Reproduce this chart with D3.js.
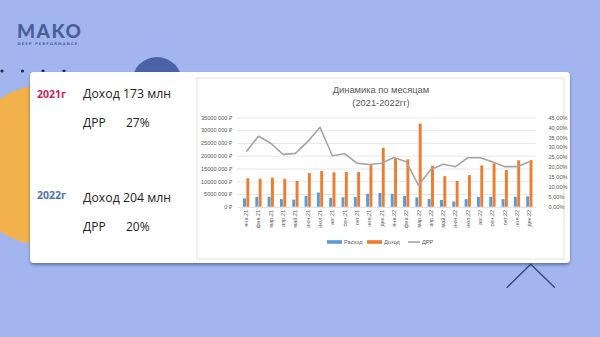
<!DOCTYPE html>
<html>
<head>
<meta charset="utf-8">
<script src="https://cdn.jsdelivr.net/npm/d3@7"></script>
<style>
  body { margin: 0; background: #a3b5ef; }
  svg { display: block; }
</style>
</head>
<body>
<svg id="slide" width="600" height="337"></svg>
<script>
// Monthly data (₽ and %)
const months = ['янв.21','фев.21','мар.21','апр.21','май.21','июн.21','июл.21','авг.21','сен.21','окт.21','ноя.21','дек.21',
                'янв.22','фев.22','мар.22','апр.22','май.22','июн.22','июл.22','авг.22','сен.22','окт.22','ноя.22','дек.22'];
const expense = [3.3, 3.9, 3.9, 3.0, 2.8, 4.3, 5.6, 3.5, 3.7, 3.8, 5.1, 5.4,
                 5.1, 4.3, 3.7, 3.0, 2.7, 2.1, 3.0, 3.9, 3.9, 3.0, 3.9, 4.1].map(v => v * 1e6);
const income  = [11.2, 11.0, 11.4, 11.0, 10.1, 13.2, 14.0, 13.5, 13.6, 13.6, 16.3, 23.1,
                 18.9, 18.6, 32.6, 16.1, 12.0, 10.1, 12.4, 16.2, 17.0, 14.4, 18.2, 18.3].map(v => v * 1e6);
const drr     = [27.7, 35.5, 32.0, 26.4, 26.9, 32.8, 40.0, 25.7, 26.7, 22.0, 21.3, 21.9,
                 24.8, 22.7, 10.8, 18.8, 21.4, 20.2, 24.7, 24.7, 22.7, 20.2, 20.2, 22.7];
const leftTicks  = [0, 5e6, 10e6, 15e6, 20e6, 25e6, 30e6, 35e6];
const rightTicks = [0, 5, 10, 15, 20, 25, 30, 35, 40, 45];
const seriesColors = { 'Расход': '#5b9bd5', 'Доход': '#ed7d31', 'ДРР': '#a5a5a5' };

// Summary figures on the left panel
const summary = [
  { year: '2021г', color: '#c8245a', income: 'Доход 173 млн', drr: '27%', yearY: 98, incY: 98 },
  { year: '2022г', color: '#4f74a8', income: 'Доход 204 млн', drr: '20%', yearY: 199, incY: 202 }
];

const svg = d3.select('#slide');

// Background decorations
const defs = svg.append('defs');
const shadow = defs.append('filter').attr('id', 'shadow')
    .attr('x', '-5%').attr('y', '-5%').attr('width', '110%').attr('height', '120%');
shadow.append('feDropShadow')
    .attr('dx', 0).attr('dy', 2).attr('stdDeviation', 1.5)
    .attr('flood-color', '#2c3a6a').attr('flood-opacity', 0.55);

svg.append('rect').attr('width', 600).attr('height', 337).attr('fill', '#a3b5ef');
svg.append('circle').attr('cx', 45).attr('cy', 165).attr('r', 80).attr('fill', '#f2b14a');
svg.append('circle').attr('cx', 157).attr('cy', 82).attr('r', 25).attr('fill', '#4b62a6');

svg.selectAll('.dot')
    .data([2, 22.5, 43, 64])
    .enter().append('circle')
    .attr('class', 'dot')
    .attr('cx', d => d).attr('cy', 71).attr('r', 1.6)
    .attr('fill', '#1f2a4a');

// Logo
svg.append('text')
    .attr('x', 17).attr('y', 38)
    .attr('font-family', 'Lato, "Open Sans", sans-serif')
    .attr('font-weight', 900).attr('font-size', 19)
    .attr('letter-spacing', 1.5)
    .attr('fill', '#4a5f96')
    .text('MAKO');
svg.append('text')
    .attr('x', 17.5).attr('y', 44.5)
    .attr('font-family', '"DejaVu Sans", sans-serif')
    .attr('font-weight', 700).attr('font-size', 3.6)
    .attr('letter-spacing', 1.15)
    .attr('fill', '#4a5f96')
    .text('DEEP PERFORMANCE');

// Corner chevron
svg.append('path')
    .attr('d', 'M506.7,287.7 L530.7,264.3 L555,287.7')
    .attr('fill', 'none').attr('stroke', '#34477a').attr('stroke-width', 1.4);

// Card
svg.append('rect')
    .attr('x', 30).attr('y', 72).attr('width', 540).attr('height', 191)
    .attr('rx', 4).attr('fill', '#ffffff')
    .attr('filter', 'url(#shadow)');

// Left summary panel
const panel = svg.append('g').attr('font-family', '"Open Sans", "Noto Sans", sans-serif');
summary.forEach(s => {
    panel.append('text')
        .attr('x', 37).attr('y', s.yearY).attr('font-size', 10.5).attr('font-weight', 700)
        .attr('fill', s.color).text(s.year);
    panel.append('text')
        .attr('x', 83).attr('y', s.incY).attr('font-size', 12.3)
        .attr('fill', '#222').text(s.income);
    panel.append('text')
        .attr('x', 83).attr('y', s.incY + 28.5).attr('font-size', 12)
        .attr('fill', '#222').text('ДРР');
    panel.append('text')
        .attr('x', 126).attr('y', s.incY + 28.5).attr('font-size', 12)
        .attr('fill', '#222').text(s.drr);
});

// Chart frame
svg.append('rect')
    .attr('x', 197).attr('y', 78).attr('width', 367).attr('height', 181)
    .attr('fill', '#ffffff').attr('stroke', '#d9d9d9').attr('stroke-width', 0.8);

const chart = svg.append('g').attr('font-family', '"Liberation Sans", Arial, sans-serif');

chart.append('text')
    .attr('x', 381).attr('y', 93).attr('text-anchor', 'middle')
    .attr('font-size', 9.3).attr('fill', '#595959').text('Динамика по месяцам');
chart.append('text')
    .attr('x', 381).attr('y', 106).attr('text-anchor', 'middle')
    .attr('font-size', 9.3).attr('fill', '#595959').text('(2021-2022гг)');

// Scales
const plotLeft = 240, plotRight = 535.5, plotTop = 117.4, plotBottom = 206.8;
const x = d3.scaleBand().domain(months).range([plotLeft, plotRight])
    .paddingInner(0.46).paddingOuter(0.23);
const x1 = d3.scaleBand().domain(['Расход', 'Доход']).range([0, x.bandwidth()]);
const yL = d3.scaleLinear().domain([0, 35e6]).range([plotBottom, plotTop]);
const yR = d3.scaleLinear().domain([0, 45]).range([plotBottom, plotTop]);

const fmtRub = d => d === 0 ? '0 ₽' : d3.format(',')(d).replace(',', '').replace(',', ' ') + ' ₽';
const fmtPct = d => d3.format('.2f')(d).replace('.', ',') + '%';

// Gridlines
chart.append('g')
    .attr('transform', `translate(${plotLeft - 3},0)`)
    .call(d3.axisLeft(yL).tickValues(leftTicks).tickSize(-(plotRight - plotLeft + 3)).tickFormat(''))
    .call(g => g.select('.domain').remove())
    .call(g => g.selectAll('line').attr('stroke', '#d9d9d9').attr('stroke-width', 0.6));

// Left axis
chart.append('g')
    .attr('transform', `translate(${plotLeft - 5},0)`)
    .call(d3.axisLeft(yL).tickValues(leftTicks).tickSize(0).tickFormat(fmtRub))
    .call(g => g.select('.domain').remove())
    .call(g => g.selectAll('text').attr('font-size', 5.6).attr('fill', '#595959')
        .attr('font-family', '"Liberation Sans", Arial, sans-serif'));

// Right axis
chart.append('g')
    .attr('transform', `translate(${plotRight + 10},0)`)
    .call(d3.axisRight(yR).tickValues(rightTicks).tickSize(0).tickFormat(fmtPct))
    .call(g => g.select('.domain').remove())
    .call(g => g.selectAll('text').attr('font-size', 5.6).attr('fill', '#595959')
        .attr('font-family', '"Liberation Sans", Arial, sans-serif'));

// Bars
const groups = chart.append('g').selectAll('g')
    .data(months.map((m, i) => ({ m, values: [['Расход', expense[i]], ['Доход', income[i]]] })))
    .enter().append('g')
    .attr('transform', d => `translate(${x(d.m)},0)`);
groups.selectAll('rect')
    .data(d => d.values)
    .enter().append('rect')
    .attr('x', d => x1(d[0]) + 0.2)
    .attr('width', x1.bandwidth() - 0.4)
    .attr('y', d => yL(d[1]))
    .attr('height', d => yL(0) - yL(d[1]))
    .attr('fill', d => seriesColors[d[0]]);

// Bottom axis
chart.append('g')
    .attr('transform', `translate(0,${plotBottom})`)
    .call(d3.axisBottom(x).tickSize(0))
    .call(g => g.select('.domain').attr('stroke', '#d9d9d9').attr('stroke-width', 0.6))
    .call(g => g.selectAll('text')
        .attr('font-size', 5.6).attr('fill', '#595959')
        .attr('font-family', '"Liberation Sans", Arial, sans-serif')
        .attr('text-anchor', 'end')
        .attr('transform', 'rotate(-90)')
        .attr('dx', -3).attr('dy', 2).attr('y', 0));

// ДРР line
const line = d3.line()
    .x((d, i) => x(months[i]) + x.bandwidth() / 2)
    .y(d => yR(d));
chart.append('path')
    .datum(drr)
    .attr('d', line)
    .attr('fill', 'none')
    .attr('stroke', seriesColors['ДРР'])
    .attr('stroke-width', 1.6)
    .attr('stroke-linejoin', 'round');

// Legend
const legendItems = [
    { name: 'Расход', x: 327, type: 'bar' },
    { name: 'Доход', x: 367, type: 'bar' },
    { name: 'ДРР', x: 408, type: 'line' }
];
const legend = chart.append('g').attr('transform', 'translate(0,242)');
legendItems.forEach(item => {
    if (item.type === 'bar') {
        legend.append('rect').attr('x', item.x).attr('y', -1.8).attr('width', 15).attr('height', 3.6)
            .attr('fill', seriesColors[item.name]);
    } else {
        legend.append('line').attr('x1', item.x).attr('x2', item.x + 12).attr('y1', 0).attr('y2', 0)
            .attr('stroke', seriesColors[item.name]).attr('stroke-width', 1.6);
    }
    legend.append('text')
        .attr('x', item.x + (item.type === 'bar' ? 17 : 14)).attr('y', 2)
        .attr('font-size', 5.6).attr('fill', '#595959')
        .text(item.name);
});
</script>
</body>
</html>
